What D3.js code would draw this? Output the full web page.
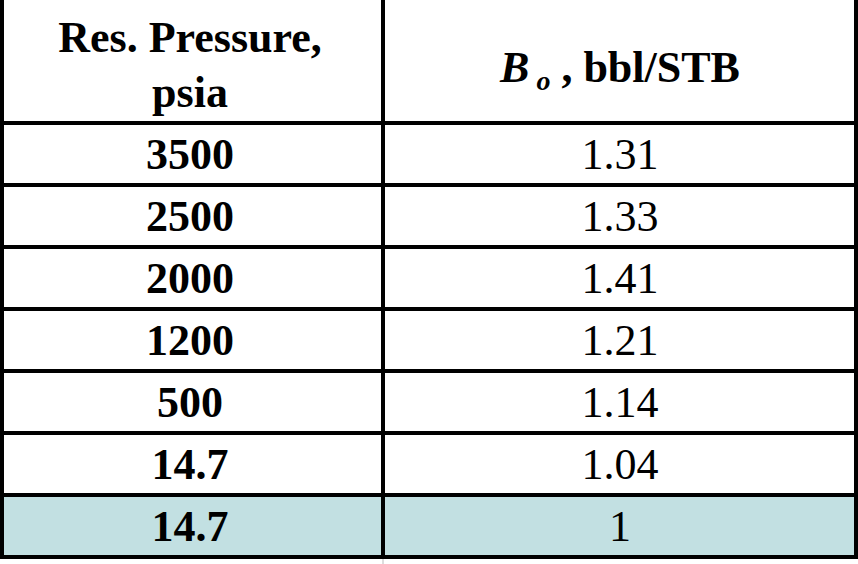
<!DOCTYPE html>
<html><head><meta charset="utf-8">
<script src="https://cdn.jsdelivr.net/npm/d3@7"></script>
<style>body{margin:0;background:#fff}</style>
</head><body><div id="chart"></div>
<script>
// table data
var pressures = ["3500", "2500", "2000", "1200", "500", "14.7", "14.7"];
var boValues = ["1.31", "1.33", "1.41", "1.21", "1.14", "1.04", "1"];
var highlightRow = 6;

var width = 858, height = 564;
var top0 = 123, rowH = 62, colX = [2, 383, 856];
var fs = 44;

var svg = d3.select("#chart").append("svg")
  .attr("width", width).attr("height", height)
  .style("font-family", "'Times New Roman', 'Liberation Serif', Times, serif");

var y = d3.scaleBand().domain(d3.range(pressures.length))
  .range([top0, top0 + rowH * pressures.length]);

// highlighted row
svg.append("rect")
  .attr("x", colX[0]).attr("y", y(highlightRow))
  .attr("width", colX[2] - colX[0]).attr("height", y.bandwidth())
  .attr("fill", "#c2e0e2");

// header
var h1 = svg.append("text").attr("text-anchor", "middle")
  .attr("font-weight", "bold").attr("font-size", fs);
h1.append("tspan").attr("x", 190).attr("y", 52).text("Res. Pressure,");
h1.append("tspan").attr("x", 190).attr("y", 107).text("psia");

var h2 = svg.append("text").attr("x", 620).attr("y", 82)
  .attr("text-anchor", "middle").attr("font-weight", "bold").attr("font-size", fs);
h2.append("tspan").attr("font-style", "italic").text("B");
h2.append("tspan").attr("font-style", "italic").attr("font-size", 28).attr("dy", 8).text(" o");
h2.append("tspan").attr("dy", -8).text(" , bbl/STB");

// cells
svg.selectAll(".p").data(pressures).enter().append("text")
  .attr("x", 190).attr("y", function (d, i) { return y(i) + y.bandwidth() / 2 + 15; })
  .attr("text-anchor", "middle").attr("font-weight", "bold").attr("font-size", fs)
  .text(function (d) { return d; });

svg.selectAll(".b").data(boValues).enter().append("text")
  .attr("x", 620).attr("y", function (d, i) { return y(i) + y.bandwidth() / 2 + 15; })
  .attr("text-anchor", "middle").attr("font-size", fs)
  .text(function (d) { return d; });

// grid lines
var bottom = top0 + rowH * pressures.length;
d3.range(pressures.length + 1).forEach(function (i) {
  var yy = top0 + i * rowH;
  svg.append("line").attr("x1", 0).attr("x2", width).attr("y1", yy).attr("y2", yy)
    .attr("stroke", "#000").attr("stroke-width", 4);
});
colX.forEach(function (x) {
  svg.append("line").attr("x1", x).attr("x2", x).attr("y1", 0).attr("y2", bottom + 2)
    .attr("stroke", "#000").attr("stroke-width", 4);
});
svg.append("line").attr("x1", 383).attr("x2", 383).attr("y1", bottom + 2).attr("y2", height)
  .attr("stroke", "#ddd").attr("stroke-width", 2);
</script></body></html>
